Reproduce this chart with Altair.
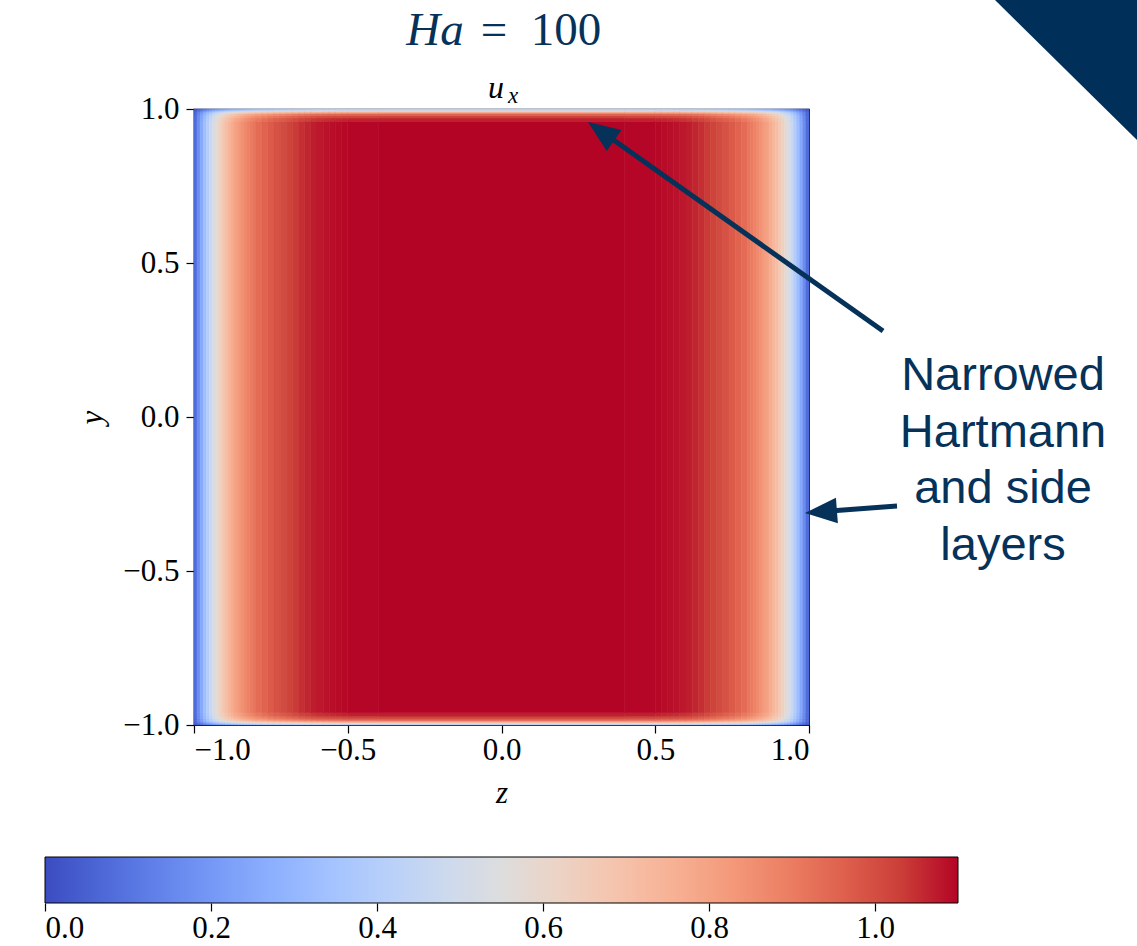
import altair as alt
import pandas as pd

# ---------------- data ----------------
VMAX = 1.1
# side-layer profile across z: cell edges and u_x value in each cell
z_edges = [-1.00, -0.99, -0.98, -0.97, -0.96, -0.95, -0.94, -0.93, -0.92, -0.91,
           -0.90, -0.89, -0.88, -0.87, -0.86, -0.85, -0.84, -0.83, -0.82, -0.81,
           -0.80, -0.78, -0.76, -0.74, -0.72, -0.70, -0.68, -0.66, -0.64, -0.62,
           -0.60, -0.58, -0.56, -0.54, -0.52, -0.50, -0.40,
           0.40, 0.50, 0.52, 0.54, 0.56, 0.58, 0.60, 0.62, 0.64, 0.66,
           0.68, 0.70, 0.72, 0.74, 0.76, 0.78, 0.80,
           0.81, 0.82, 0.83, 0.84, 0.85, 0.86, 0.87, 0.88, 0.89, 0.90,
           0.91, 0.92, 0.93, 0.94, 0.95, 0.96, 0.97, 0.98, 0.99, 1.00]
z_vals = [0.08, 0.17, 0.25, 0.33, 0.40, 0.47, 0.53, 0.58, 0.63, 0.67,
          0.71, 0.74, 0.77, 0.80, 0.82, 0.845, 0.865, 0.885, 0.90, 0.915,
          0.935, 0.955, 0.975, 0.99, 1.005, 1.02, 1.035, 1.05, 1.06, 1.07,
          1.077, 1.083, 1.088, 1.092, 1.095, 1.098,
          1.10,
          1.098, 1.095, 1.092, 1.088, 1.083, 1.077, 1.07, 1.06, 1.05,
          1.035, 1.02, 1.005, 0.99, 0.975, 0.955, 0.935,
          0.915, 0.90, 0.885, 0.865, 0.845, 0.82, 0.80, 0.77, 0.74, 0.71,
          0.67, 0.63, 0.58, 0.53, 0.47, 0.40, 0.33, 0.25, 0.17, 0.08]
# Hartmann-layer profile across y: cell edges and fraction of the core value
y_edges = [-1.0, -0.9965, -0.993, -0.9895, -0.985, -0.979, -0.971, -0.960,
           0.960, 0.971, 0.979, 0.985, 0.9895, 0.993, 0.9965, 1.0]
y_frac = [0.36, 0.52, 0.66, 0.78, 0.87, 0.93, 0.97,
          1.00,
          0.97, 0.93, 0.87, 0.78, 0.66, 0.52, 0.36]

axis_ticks = [-1.0, -0.5, 0.0, 0.5, 1.0]
cb_ticks = [0.0, 0.2, 0.4, 0.6, 0.8, 1.0]

coolwarm = ["#3b4cc0", "#4d68d7", "#6282ea", "#779af7", "#8db0fe", "#a3c2ff",
            "#b8d0f9", "#ccd9ee", "#dddddd", "#ecd3c5", "#f5c4ad", "#f7b194",
            "#f49a7b", "#ec7f63", "#de604d", "#cb3e38", "#b40426"]

ann_lines = ["Narrowed", "Hartmann", "and side", "layers"]
ann_z = [1.631, 1.631, 1.631, 1.631]
ann_y = [0.0877, -0.0974, -0.2792, -0.4643]

arrow_tail_z = [1.2407, 1.2862]
arrow_tail_y = [0.2792, -0.2890]
arrow_base_z = [0.3463, 1.0683]
arrow_base_y = [0.9123, -0.3052]
arrow_tip_z = [0.2813, 0.9870]
arrow_tip_y = [0.9578, -0.3117]
arrow_angle = [305.3, 265.6]

NAVY = "#06325a"
SERIF = "Liberation Serif"

# ---------------- tables ----------------
rows = []
for i, zv in enumerate(z_vals):
    for j, yf in enumerate(y_frac):
        rows.append({"z0": z_edges[i], "z1": z_edges[i + 1],
                     "y0": y_edges[j], "y1": y_edges[j + 1], "u": zv * yf})
cells = pd.DataFrame(rows)

n = len(coolwarm)
stop_dom = [VMAX * k / (n - 1) for k in range(n)]
cscale = alt.Scale(domain=stop_dom, range=coolwarm, interpolate="rgb", clamp=True)

xs = alt.Scale(domain=[-1, 1], nice=False, zero=False)
ys = alt.Scale(domain=[-1, 1], nice=False, zero=False)

heat = alt.Chart(cells).mark_rect(strokeWidth=0.6).encode(
    x=alt.X("z0:Q", scale=xs, axis=alt.Axis(
        values=axis_ticks, format=".1f", title="z", labelOverlap=False,
        labelPadding=2, titlePadding=13)),
    x2="z1:Q",
    y=alt.Y("y0:Q", scale=ys, axis=alt.Axis(
        values=axis_ticks, format=".1f", title="y", labelOverlap=False,
        labelPadding=7, titlePadding=14)),
    y2="y1:Q",
    color=alt.Color("u:Q", scale=cscale, legend=None),
    stroke=alt.Stroke("u:Q", scale=cscale, legend=None),
)

# colour bar
cb_df = pd.DataFrame({"lo": [0.0], "hi": [VMAX]})
grad = {"gradient": "linear", "x1": 0, "y1": 0, "x2": 1, "y2": 0,
        "stops": [{"offset": k / (n - 1), "color": c} for k, c in enumerate(coolwarm)]}
cbar = alt.Chart(cb_df).mark_rect(fill=grad, stroke="black", strokeWidth=1).encode(
    x=alt.X("lo:Q", scale=alt.Scale(domain=[0, VMAX], range=[45 - 194, 958 - 194],
                                    nice=False, zero=False),
            axis=alt.Axis(orient="bottom", offset=178, values=cb_ticks, format=".1f",
                          domain=False, title=None, labelOverlap=False, labelPadding=2)),
    x2="hi:Q",
    y=alt.value(748), y2=alt.value(794),
)

# annotations
ann_df = pd.DataFrame({"t": ann_lines, "z": ann_z, "y": ann_y})
ann = alt.Chart(ann_df).mark_text(font="Liberation Sans", fontSize=47, color=NAVY,
                                  align="center", baseline="alphabetic").encode(
    x=alt.X("z:Q", scale=xs, axis=None), y=alt.Y("y:Q", scale=ys, axis=None), text="t:N")

arr_df = pd.DataFrame({"tz": arrow_tail_z, "ty": arrow_tail_y,
                       "bz": arrow_base_z, "by": arrow_base_y,
                       "pz": arrow_tip_z, "py": arrow_tip_y, "ang": arrow_angle})
shafts = alt.Chart(arr_df).mark_rule(strokeWidth=5, color=NAVY).encode(
    x=alt.X("tz:Q", scale=xs, axis=None), y=alt.Y("ty:Q", scale=ys, axis=None),
    x2="bz:Q", y2="by:Q")
heads = alt.Chart(arr_df).mark_point(shape="M0,0 L-0.8,2 L0.8,2 Z", size=1024, filled=True,
                                     opacity=1, color=NAVY, strokeWidth=0).encode(
    x=alt.X("pz:Q", scale=xs, axis=None), y=alt.Y("py:Q", scale=ys, axis=None),
    angle=alt.Angle("ang:Q", scale=None))

# decorations / titles (pixel positions relative to plot origin)
tri = alt.Chart(pd.DataFrame({"k": [0]})).mark_point(
    shape="M0,0 L-142,0 L0,140 Z", size=4, filled=True, opacity=1, color="#00305a",
    strokeWidth=0).encode(x=alt.value(943), y=alt.value(-109))

def txt(s, x, y, size, style="normal", color=NAVY, align="center"):
    return alt.Chart(pd.DataFrame({"k": [0]})).mark_text(
        text=s, font=SERIF, fontSize=size, fontStyle=style, color=color,
        align=align, baseline="alphabetic").encode(x=alt.value(x), y=alt.value(y))

t_ha = txt("Ha", 241, -64, 47, "italic")
t_eq = txt("=", 300, -64, 47)
t_100 = txt("100", 372, -64, 47)
t_u = txt("u", 302, -11, 32, "italic", "black")
t_x = txt("x", 319, -6, 23, "italic", "black")

chart = alt.layer(heat, cbar, shafts, heads, ann, tri, t_ha, t_eq, t_100, t_u, t_x).resolve_scale(
    x="independent", y="independent").resolve_axis(x="independent", y="independent").properties(
    width=615, height=616,
    autosize=alt.AutoSizeParams(type="none"),
    padding={"left": 194, "top": 109, "right": 328, "bottom": 221},
    background="white",
).configure_view(stroke="black", strokeWidth=1.2).configure_axis(
    labelFont=SERIF, labelFontSize=31, labelColor="black",
    titleFont=SERIF, titleFontSize=31, titleFontStyle="italic", titleFontWeight="normal",
    titleColor="black", tickColor="black", tickSize=8, tickWidth=1.2,
    domainColor="black", domainWidth=1.2, grid=False,
)

chart.save("out.html", embed_options={"renderer": "svg", "actions": False})
